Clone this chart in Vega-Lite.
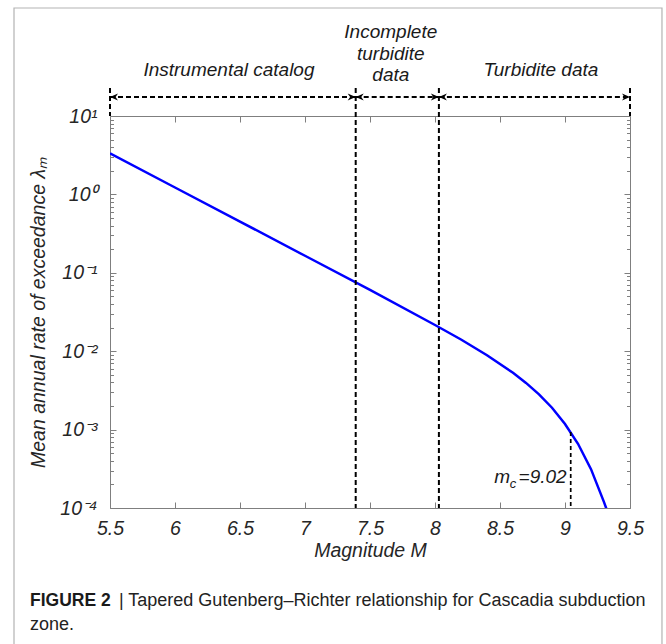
{
  "$schema": "https://vega.github.io/schema/vega-lite/v6.json",
  "width": 520,
  "height": 392,
  "autosize": {"type": "none"},
  "padding": {"left": 110, "top": 116, "right": 36, "bottom": 136},
  "background": "white",
  "config": {"view": {"stroke": null}, "font": "Liberation Sans"},
  "datasets": {
    "curve": [
      {"m": 5.5, "rate": 3.33},
      {"m": 6.0, "rate": 1.225},
      {"m": 6.5, "rate": 0.45},
      {"m": 7.0, "rate": 0.165},
      {"m": 7.5, "rate": 0.0604},
      {"m": 8.0, "rate": 0.0216},
      {"m": 8.2, "rate": 0.0141},
      {"m": 8.4, "rate": 0.00889},
      {"m": 8.6, "rate": 0.0053},
      {"m": 8.7, "rate": 0.00394},
      {"m": 8.8, "rate": 0.00281},
      {"m": 8.9, "rate": 0.0019},
      {"m": 9.0, "rate": 0.00118},
      {"m": 9.1, "rate": 0.000659},
      {"m": 9.2, "rate": 0.000313},
      {"m": 9.3, "rate": 0.000119},
      {"m": 9.35, "rate": 0.00007}
    ],
    "bounds": [
      {"m": 5.5, "rate": 22.75, "rate2": 10},
      {"m": 7.39, "rate": 22.75, "rate2": 0.0001},
      {"m": 8.03, "rate": 22.75, "rate2": 0.0001},
      {"m": 9.5, "rate": 22.75, "rate2": 10}
    ],
    "spans": [
      {"m": 5.5, "m2": 7.39, "rate": 17.47},
      {"m": 7.39, "m2": 8.03, "rate": 17.47},
      {"m": 8.03, "m2": 9.5, "rate": 17.47}
    ],
    "heads": [
      {"m": 5.5, "rate": 17.47, "dir": "left"},
      {"m": 7.39, "rate": 17.47, "dir": "right"},
      {"m": 7.39, "rate": 17.47, "dir": "left"},
      {"m": 8.03, "rate": 17.47, "dir": "right"},
      {"m": 8.03, "rate": 17.47, "dir": "left"},
      {"m": 9.5, "rate": 17.47, "dir": "right"}
    ],
    "regions": [
      {"m": 6.415, "rate": 38.6, "label": "Instrumental catalog"},
      {"m": 7.66, "rate": 117.8, "label": "Incomplete\nturbidite\ndata"},
      {"m": 8.815, "rate": 38.6, "label": "Turbidite data"}
    ],
    "mc": [{"m": 9.044, "rate": 0.00093, "rate2": 0.0001}],
    "mclabel": [
      {"m": 8.455, "rate": 0.0002506, "label": "m"}
    ],
    "mcval": [
      {"m": 9.013, "rate": 0.0002506, "label": "=9.02"}
    ],
    "mcsub": [{"m": 8.575, "rate": 0.000205, "label": "c"}],
    "capbold": [{"m": 4.8846, "rate": 0.00000652, "label": "FIGURE 2"}],
    "capnorm": [
      {"m": 5.569, "rate": 0.00000652, "label": "| Tapered Gutenberg–Richter relationship for Cascadia subduction"},
      {"m": 4.8846, "rate": 0.00000322, "label": "zone."}
    ],
    "frame": [{"m": 4.7615, "m2": 9.746, "rate": 238.6, "rate2": 0.00000115}]
  },
  "encoding": {
    "x": {"field": "m", "type": "quantitative", "scale": {"domain": [5.5, 9.5], "nice": false, "zero": false}, "axis": null},
    "y": {"field": "rate", "type": "quantitative", "scale": {"type": "log", "domain": [0.0001, 10], "nice": false}, "axis": null}
  },
  "layer": [
    {
      "data": {"name": "curve"},
      "mark": {"type": "line", "color": "#0000ff", "strokeWidth": 2.5, "clip": true},
      "encoding": {
        "x": {"field": "m", "type": "quantitative", "scale": {"domain": [5.5, 9.5], "nice": false, "zero": false},
          "axis": {"orient": "bottom", "values": [5.5, 6, 6.5, 7, 7.5, 8, 8.5, 9, 9.5], "labelExpr": "'' + datum.value",
            "labelFont": "Liberation Sans", "labelFontSize": 19.5, "labelFontStyle": "italic", "labelColor": "#262626",
            "labelPadding": 17, "tickSize": -6, "tickColor": "#7f7f7f", "domainColor": "#7f7f7f", "grid": false, "labelOverlap": false, "labelFlush": false,
            "title": "Magnitude M", "titleFont": "Liberation Sans", "titleFontSize": 19.5, "titleFontStyle": "italic", "titleFontWeight": "normal", "titleColor": "#262626", "titlePadding": 4}},
        "y": {"field": "rate", "type": "quantitative", "scale": {"type": "log", "domain": [0.0001, 10], "nice": false},
          "axis": {"orient": "left",
            "values": [0.0001,0.0002,0.0003,0.0004,0.0005,0.0006,0.0007,0.0008,0.0009,0.001,0.002,0.003,0.004,0.005,0.006,0.007,0.008,0.009,0.01,0.02,0.03,0.04,0.05,0.06,0.07,0.08,0.09,0.1,0.2,0.3,0.4,0.5,0.6,0.7,0.8,0.9,1,2,3,4,5,6,7,8,9,10],
            "labelExpr": "datum.value == 10 ? '10¹' : datum.value == 1 ? '10⁰' : datum.value == 0.1 ? '10⁻¹' : datum.value == 0.01 ? '10⁻²' : datum.value == 0.001 ? '10⁻³' : datum.value == 0.0001 ? '10⁻⁴' : ''",
            "labelFont": "Liberation Sans", "labelFontSize": 19.5, "labelFontStyle": "italic", "labelColor": "#262626", "labelOverlap": false, "labelFlush": false,
            "labelPadding": 19,
            "tickSize": {"condition": {"test": "indexof([0.0001,0.001,0.01,0.1,1,10], datum.value) >= 0", "value": -6}, "value": -3.5},
            "tickColor": "#7f7f7f", "domainColor": "#7f7f7f", "grid": false,
            "title": "Mean annual rate of exceedance λₘ", "titleFont": "Liberation Sans", "titleFontSize": 19.5, "titleFontStyle": "italic", "titleFontWeight": "normal", "titleColor": "#262626", "titlePadding": 11}}
      }
    },
    {
      "data": {"name": "curve"},
      "mark": {"type": "line", "strokeOpacity": 0, "clip": true},
      "encoding": {
        "x": {"field": "m", "type": "quantitative", "scale": {"domain": [5.5, 9.5], "nice": false, "zero": false},
          "axis": {"orient": "top", "values": [6, 6.5, 7, 7.5, 8, 8.5, 9], "labels": false, "tickSize": -6, "tickColor": "#7f7f7f", "domainColor": "#7f7f7f", "grid": false, "title": null}},
        "y": {"field": "rate", "type": "quantitative", "scale": {"type": "log", "domain": [0.0001, 10], "nice": false},
          "axis": {"orient": "right",
            "values": [0.0001,0.0002,0.0003,0.0004,0.0005,0.0006,0.0007,0.0008,0.0009,0.001,0.002,0.003,0.004,0.005,0.006,0.007,0.008,0.009,0.01,0.02,0.03,0.04,0.05,0.06,0.07,0.08,0.09,0.1,0.2,0.3,0.4,0.5,0.6,0.7,0.8,0.9,1,2,3,4,5,6,7,8,9,10],
            "labels": false,
            "tickSize": {"condition": {"test": "indexof([0.0001,0.001,0.01,0.1,1,10], datum.value) >= 0", "value": -6}, "value": -3.5},
            "tickColor": "#7f7f7f", "domainColor": "#7f7f7f", "grid": false, "title": null}}
      }
    },
    {
      "data": {"name": "frame"},
      "mark": {"type": "rect", "filled": false, "stroke": "#b3b3b3", "strokeWidth": 1.2, "clip": false},
      "encoding": {"x2": {"field": "m2"}, "y2": {"field": "rate2"}}
    },
    {
      "data": {"name": "bounds"},
      "mark": {"type": "rule", "color": "#000000", "strokeWidth": 2, "strokeDash": [5, 3], "clip": false},
      "encoding": {"y2": {"field": "rate2"}}
    },
    {
      "data": {"name": "spans"},
      "mark": {"type": "rule", "color": "#000000", "strokeWidth": 2, "strokeDash": [5, 3], "clip": false},
      "encoding": {"x2": {"field": "m2"}}
    },
    {
      "data": {"name": "heads"},
      "mark": {"type": "point", "filled": true, "color": "#000000", "opacity": 1, "size": 64, "clip": false},
      "encoding": {
        "shape": {"field": "dir", "type": "nominal", "legend": null,
          "scale": {"domain": ["left", "right"], "range": ["M0,0L2,-0.9L1.4,0L2,0.9Z", "M0,0L-2,-0.9L-1.4,0L-2,0.9Z"]}}
      }
    },
    {
      "data": {"name": "mc"},
      "mark": {"type": "rule", "color": "#000000", "strokeWidth": 1.7, "strokeDash": [4, 3], "clip": false},
      "encoding": {"y2": {"field": "rate2"}}
    },
    {
      "data": {"name": "regions"},
      "mark": {"type": "text", "font": "Liberation Sans", "fontSize": 19, "fontStyle": "italic", "color": "#1a1a1a", "align": "center", "baseline": "middle", "lineBreak": "\n", "lineHeight": 21.7, "clip": false},
      "encoding": {"text": {"field": "label"}}
    },
    {
      "data": {"name": "mclabel"},
      "mark": {"type": "text", "font": "Liberation Sans", "fontSize": 19, "fontStyle": "italic", "color": "#1a1a1a", "align": "left", "baseline": "middle", "clip": false},
      "encoding": {"text": {"field": "label"}}
    },
    {
      "data": {"name": "mcval"},
      "mark": {"type": "text", "font": "Liberation Sans", "fontSize": 19, "fontStyle": "italic", "color": "#1a1a1a", "align": "right", "baseline": "middle", "clip": false},
      "encoding": {"text": {"field": "label"}}
    },
    {
      "data": {"name": "mcsub"},
      "mark": {"type": "text", "font": "Liberation Sans", "fontSize": 13, "fontStyle": "italic", "color": "#1a1a1a", "align": "left", "baseline": "middle", "clip": false},
      "encoding": {"text": {"field": "label"}}
    },
    {
      "data": {"name": "capbold"},
      "mark": {"type": "text", "font": "Liberation Sans", "fontSize": 17.5, "fontWeight": "bold", "color": "#1a1a1a", "align": "left", "baseline": "middle", "clip": false},
      "encoding": {"text": {"field": "label"}}
    },
    {
      "data": {"name": "capnorm"},
      "mark": {"type": "text", "font": "Liberation Sans", "fontSize": 18, "color": "#222222", "align": "left", "baseline": "middle", "clip": false},
      "encoding": {"text": {"field": "label"}}
    }
  ],
  "resolve": {"axis": {"x": "independent", "y": "independent"}}
}
